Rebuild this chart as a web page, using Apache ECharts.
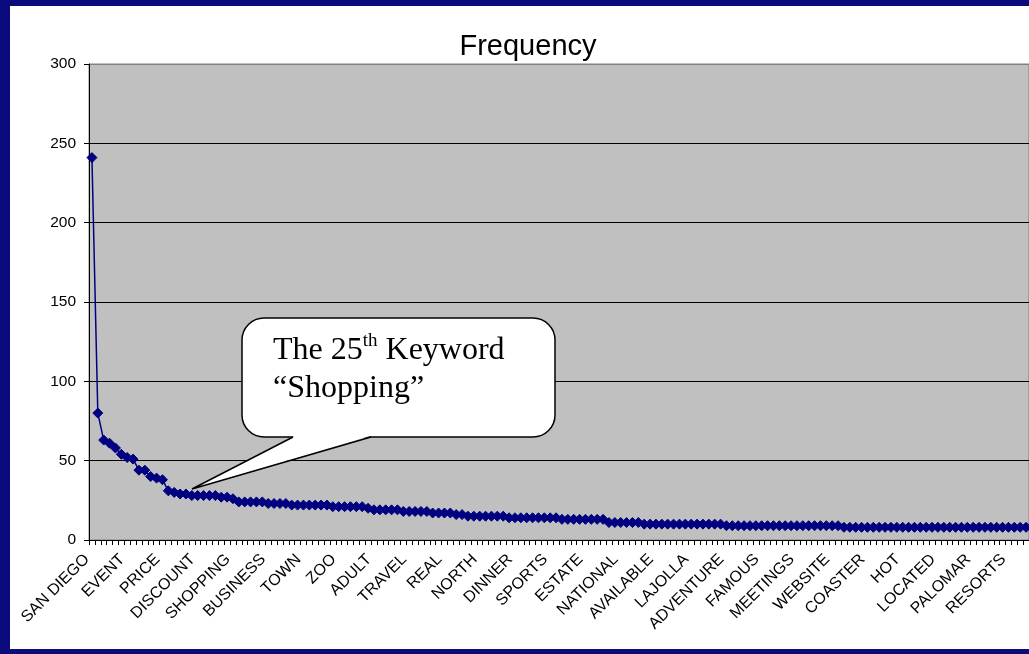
<!DOCTYPE html>
<html>
<head>
<meta charset="utf-8">
<script src="https://cdn.jsdelivr.net/npm/echarts@6/dist/echarts.min.js"></script>
<style>
  html, body { margin: 0; padding: 0; background: #ffffff; }
  #chart { width: 1029px; height: 654px; }
</style>
</head>
<body>
<div id="chart"></div>
<script>
// Tick labels shown on the category axis (every 6th keyword)
const tickLabels = ["SAN DIEGO", "EVENT", "PRICE", "DISCOUNT", "SHOPPING", "BUSINESS", "TOWN", "ZOO",
  "ADULT", "TRAVEL", "REAL", "NORTH", "DINNER", "SPORTS", "ESTATE", "NATIONAL", "AVAILABLE",
  "LAJOLLA", "ADVENTURE", "FAMOUS", "MEETINGS", "WEBSITE", "COASTER", "HOT", "LOCATED",
  "PALOMAR", "RESORTS"];
const labelStep = 6;

// Keyword frequencies, ranked
const frequency = [
  241, 80, 63, 61, 58, 54, 52, 51, 44, 44, 40, 39, 38, 31, 30,
  29, 29, 28, 28, 28, 28, 28, 27, 27, 26,
  24, 24, 24, 24, 24,
  23, 23, 23, 23,
  22, 22, 22, 22, 22, 22, 22,
  21, 21, 21, 21, 21, 21,
  20,
  19, 19, 19, 19, 19,
  18, 18, 18, 18, 18,
  17, 17, 17, 17,
  16, 16,
  15, 15, 15, 15, 15, 15, 15,
  14, 14, 14, 14, 14, 14, 14, 14, 14,
  13, 13, 13, 13, 13, 13, 13, 13,
  11, 11, 11, 11, 11, 11,
  10, 10, 10, 10, 10, 10, 10, 10, 10, 10, 10, 10, 10, 10,
  9, 9, 9, 9, 9, 9, 9, 9, 9, 9, 9, 9, 9, 9, 9, 9, 9, 9, 9, 9,
  8, 8, 8, 8, 8, 8, 8, 8, 8, 8, 8, 8, 8, 8, 8, 8,
  8, 8, 8, 8, 8, 8, 8, 8, 8, 8, 8, 8, 8, 8, 8, 8
];

// Category names: labelled keywords at every 6th position, others unnamed
const categories = frequency.map((v, i) =>
  (i % labelStep === 0 && tickLabels[i / labelStep] !== undefined) ? tickLabels[i / labelStep] : "");

const titleText = "Frequency";
const calloutLine1 = ["The 25", "th", " Keyword"];
const calloutLine2 = "“Shopping”";

const navy = "#0b0b7e";
const sans = "'Liberation Sans', Arial, sans-serif";
const serif = "'Liberation Serif', 'Times New Roman', serif";

const chart = echarts.init(document.getElementById('chart'), null, { renderer: 'canvas' });
chart.setOption({
  animation: false,
  backgroundColor: '#ffffff',
  title: {
    text: titleText,
    left: 523,
    top: 27,
    textAlign: 'center',
    textStyle: { fontFamily: sans, fontSize: 29, fontWeight: 'normal', color: '#000' }
  },
  grid: {
    left: 89, right: 0, top: 64, bottom: 114,
    show: true, backgroundColor: '#C0C0C0', borderColor: '#808080', borderWidth: 1,
    containLabel: false
  },
  xAxis: {
    type: 'category',
    data: categories,
    boundaryGap: true,
    axisLine: { show: true, lineStyle: { color: '#000', width: 1 } },
    axisTick: { show: true, interval: 0, length: 5, lineStyle: { color: '#000' } },
    axisLabel: {
      interval: labelStep - 1, rotate: 45, margin: 12, padding: [0, 7, 0, 0],
      fontFamily: sans, fontSize: 16, color: '#000', hideOverlap: false
    },
    splitLine: { show: false }
  },
  yAxis: {
    type: 'value',
    min: 0, max: 300, interval: 50,
    axisLine: { show: true, lineStyle: { color: '#000', width: 1 } },
    axisTick: { show: true, length: 5, lineStyle: { color: '#000' } },
    axisLabel: { margin: 13, fontFamily: sans, fontSize: 15.5, color: '#000' },
    splitLine: { show: true, lineStyle: { color: ['#000', '#000', '#000', '#000', '#000', '#000', '#808080'], width: 1 } }
  },
  series: [{
    type: 'line',
    data: frequency,
    symbol: 'diamond',
    symbolSize: 10,
    showAllSymbol: true,
    itemStyle: { color: '#000080', borderColor: '#000080', borderWidth: 1 },
    lineStyle: { color: '#000080', width: 1.5 }
  }],
  graphic: [
    { type: 'rect', z: 50, shape: { x: 0, y: 0, width: 10, height: 654 }, style: { fill: navy } },
    { type: 'rect', z: 50, shape: { x: 0, y: 0, width: 1029, height: 6 }, style: { fill: navy } },
    { type: 'rect', z: 50, shape: { x: 0, y: 649, width: 1029, height: 5 }, style: { fill: navy } },
    {
      type: 'rect', z: 100,
      shape: { x: 242, y: 318, width: 313, height: 119, r: 22 },
      style: { fill: '#ffffff', stroke: '#000', lineWidth: 1.5 }
    },
    {
      type: 'polygon', z: 101,
      shape: { points: [[294, 436], [192, 489], [370, 436]] },
      style: { fill: '#ffffff', stroke: null, lineWidth: 0 }
    },
    {
      type: 'polyline', z: 102,
      shape: { points: [[293, 437], [192, 489], [371, 437]] },
      style: { fill: null, stroke: '#000', lineWidth: 1.5 }
    },
    {
      type: 'text', z: 103, x: 273, y: 332,
      style: {
        text: '{a|' + calloutLine1[0] + '}{s|' + calloutLine1[1] + '}{a|' + calloutLine1[2] + '}\n{a|' + calloutLine2 + '}',
        verticalAlign: 'top', align: 'left',
        rich: {
          a: { fontFamily: serif, fontSize: 32, lineHeight: 38, fill: '#000', color: '#000' },
          s: { fontFamily: serif, fontSize: 19, lineHeight: 22, verticalAlign: 'top', fill: '#000', color: '#000' }
        }
      }
    }
  ]
});
</script>
</body>
</html>
